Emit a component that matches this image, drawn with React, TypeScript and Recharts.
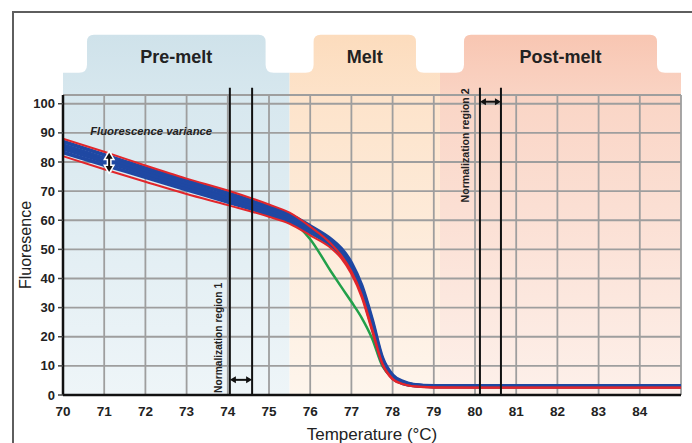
import React from 'react';
import {
  ComposedChart,
  Line,
  XAxis,
  YAxis,
  CartesianGrid,
  ReferenceArea,
  ReferenceLine,
  ReferenceDot,
} from 'recharts';

// melt curve samples
const temps = [70, 71, 72, 73, 74, 75, 75.5, 76, 76.5, 76.75, 77, 77.25, 77.5, 77.75, 78, 78.25, 78.5, 79, 80, 85];
const redTop = [88, 83.5, 78.8, 74.3, 70.2, 65.4, 62.6, 57.8, 52, 48, 42.5, 34.5, 23, 11, 5.6, 3.8, 3, 2.7, 2.6, 2.6];
const blue1 = [87, 82.5, 77.9, 73.5, 69.3, 64.6, 62, 58, 53.5, 50.3, 45.3, 37.5, 26, 12.8, 6.8, 4.6, 3.6, 3.1, 3, 3];
const blue2 = [85.8, 81.3, 76.9, 72.4, 68.2, 63.7, 61.1, 57.2, 52.8, 49.6, 44.6, 36.8, 25.2, 12.2, 6.5, 4.4, 3.5, 3, 3, 3];
const blue3 = [84.6, 80.2, 75.9, 71.5, 67.3, 62.8, 60.3, 56.5, 52.1, 48.9, 43.8, 36, 24.4, 11.7, 6.2, 4.2, 3.4, 3, 3, 3];
const blue4 = [83.3, 79, 74.8, 70.5, 66.3, 62, 59.5, 55.8, 51.4, 48.2, 43, 35.2, 23.6, 11.2, 5.9, 4, 3.3, 3, 3, 3];
const redBottom = [82, 77.5, 73.2, 69, 65.2, 61.2, 58.8, 54.8, 50.5, 47, 41.5, 33.5, 22, 10.5, 5.3, 3.7, 3, 2.5, 2.5, 2.5];
const green = [85, 80.5, 76.2, 72, 67.8, 63, 60.3, 53.5, 42.5, 37.2, 32, 26.5, 19.5, 10, 6, 4, 3.2, 2.8, 2.8, 2.8];

const xTicks = [70, 71, 72, 73, 74, 75, 76, 77, 78, 79, 80, 81, 82, 83, 84];
const yTicks = [0, 10, 20, 30, 40, 50, 60, 70, 80, 90, 100];

const phaseNames = ['Pre-melt', 'Melt', 'Post-melt'];
const phaseStart = [70, 75.5, 79.15];
const phaseEnd = [75.5, 79.15, 85];
const phaseTop = 110.6;

// normalization region boundaries
const normLines = [74.05, 74.59, 80.12, 80.63];

const data = temps.map((t, i) => ({
  t,
  redTop: redTop[i],
  blue1: blue1[i],
  blue2: blue2[i],
  blue3: blue3[i],
  blue4: blue4[i],
  redBottom: redBottom[i],
  green: green[i],
}));

const phaseColors = [
  ['#cfe2ea', '#d8e8ef', '#eef5f8'],
  ['#fcdcbd', '#fde4cc', '#fef5ec'],
  ['#f8c6b2', '#fad6c7', '#fdf0ea'],
];

const FONT = "'Liberation Sans', Arial, sans-serif";

const PhaseBand = (props: any) => {
  const { x, y, width, height, idx } = props;
  const tabH = 38;
  const inset = 24;
  const rt = 7;
  const rf = 8;
  const yt = y - tabH;
  const l = x + inset;
  const r = x + width - inset;
  const d = `M${x},${y} L${l - rf},${y} Q${l},${y} ${l},${y - rf} L${l},${yt + rt} Q${l},${yt} ${l + rt},${yt} L${r - rt},${yt} Q${r},${yt} ${r},${yt + rt} L${r},${y - rf} Q${r},${y} ${r + rf},${y} L${x + width},${y} L${x + width},${y + height} L${x},${y + height} Z`;
  const c = phaseColors[idx];
  const gid = `phase-grad-${idx}`;
  return (
    <g>
      <defs>
        <linearGradient id={gid} x1="0" y1="0" x2="0" y2="1">
          <stop offset="0" stopColor={c[0]} />
          <stop offset="0.2" stopColor={c[1]} />
          <stop offset="1" stopColor={c[2]} />
        </linearGradient>
      </defs>
      <path d={d} fill={`url(#${gid})`} />
      <text
        x={x + width / 2}
        y={y - 16}
        textAnchor="middle"
        dominantBaseline="central"
        fontFamily={FONT}
        fontWeight="bold"
        fontSize={18}
        fill="#222"
      >
        {phaseNames[idx]}
      </text>
    </g>
  );
};

const DoubleArrow = (p: any) => {
  const { x1, y1, x2, y2, halo } = p;
  const dx = x2 - x1;
  const dy = y2 - y1;
  const len = Math.hypot(dx, dy) || 1;
  const ux = dx / len;
  const uy = dy / len;
  const nx = -uy;
  const ny = ux;
  const h = 6;
  const w = 3.5;
  const head = (tx: number, ty: number, s: number) =>
    `M${tx},${ty} L${tx - s * ux * h + nx * w},${ty - s * uy * h + ny * w} L${tx - s * ux * h - nx * w},${ty - s * uy * h - ny * w} Z`;
  return (
    <g>
      {halo && (
        <g stroke="#fff" strokeWidth={3} fill="#fff">
          <line x1={x1} y1={y1} x2={x2} y2={y2} strokeWidth={5} />
          <path d={head(x2, y2, 1)} />
          <path d={head(x1, y1, -1)} />
        </g>
      )}
      <line x1={x1 + ux * 3} y1={y1 + uy * 3} x2={x2 - ux * 3} y2={y2 - uy * 3} stroke="#111" strokeWidth={2} />
      <path d={head(x2, y2, 1)} fill="#111" />
      <path d={head(x1, y1, -1)} fill="#111" />
    </g>
  );
};

const TextMark = (p: any) => {
  const { cx, cy, text, rotate, size, italic, length } = p;
  return (
    <text
      x={cx}
      y={cy}
      textAnchor="middle"
      dominantBaseline="central"
      transform={rotate ? `rotate(-90 ${cx} ${cy})` : undefined}
      fontFamily={FONT}
      fontWeight="bold"
      fontStyle={italic ? 'italic' : 'normal'}
      fontSize={size}
      textLength={length}
      lengthAdjust="spacingAndGlyphs"
      fill="#222"
    >
      {text}
    </text>
  );
};

const blueColor = '#1f48a3';
const redColor = '#e2262b';
const greenColor = '#22a04a';

export default function App() {
  return (
    <div style={{ position: 'absolute', left: 0, top: 0, width: 692, height: 443, background: '#fff' }}>
      <div
        style={{
          position: 'absolute',
          left: 12,
          top: 11,
          width: 690,
          height: 440,
          borderTop: '2px solid #5e5e5e',
          borderLeft: '2px solid #5e5e5e',
        }}
      />
      <div style={{ position: 'absolute', left: 0, top: 0 }}>
        <ComposedChart width={692} height={443} data={data} margin={{ top: 95, right: 11, left: 13, bottom: 0 }}>
          {phaseNames.map((name, i) => (
            <ReferenceArea
              key={name}
              x1={phaseStart[i]}
              x2={phaseEnd[i]}
              y1={0}
              y2={phaseTop}
              ifOverflow="visible"
              zIndex={-200}
              shape={(p: any) => <PhaseBand {...p} idx={i} />}
            />
          ))}
          <CartesianGrid stroke="#9e9e9e" strokeWidth={1.8} />
          <XAxis
            dataKey="t"
            type="number"
            domain={[70, 85]}
            ticks={xTicks}
            allowDataOverflow
            axisLine={{ stroke: '#111', strokeWidth: 2.5 }}
            tickLine={false}
            tickMargin={5}
            height={48}
            tick={{ fill: '#222', fontSize: 13.5, fontWeight: 'bold', fontFamily: FONT }}
            label={{ value: 'Temperature (°C)', position: 'insideBottom', offset: 3, fill: '#222', fontSize: 17, fontFamily: FONT }}
          />
          <YAxis
            type="number"
            domain={[0, 103]}
            ticks={yTicks}
            allowDataOverflow
            width={50}
            axisLine={{ stroke: '#111', strokeWidth: 2.5 }}
            tickLine={{ stroke: '#444', strokeWidth: 1.5 }}
            tickSize={5}
            tickMargin={3}
            tick={{ fill: '#222', fontSize: 13, fontWeight: 'bold', fontFamily: FONT }}
            label={{
              value: 'Fluoresence',
              angle: -90,
              position: 'insideLeft',
              offset: 12,
              fill: '#222',
              fontSize: 16,
              fontFamily: FONT,
              style: { textAnchor: 'middle' },
            }}
          />
          <Line type="monotone" dataKey="green" stroke={greenColor} strokeWidth={2.5} dot={false} isAnimationActive={false} />
          <Line type="monotone" dataKey="blue1" stroke={blueColor} strokeWidth={3.8} dot={false} isAnimationActive={false} />
          <Line type="monotone" dataKey="blue2" stroke={blueColor} strokeWidth={3.8} dot={false} isAnimationActive={false} />
          <Line type="monotone" dataKey="blue3" stroke={blueColor} strokeWidth={3.8} dot={false} isAnimationActive={false} />
          <Line type="monotone" dataKey="blue4" stroke={blueColor} strokeWidth={3.8} dot={false} isAnimationActive={false} />
          <Line type="monotone" dataKey="redTop" stroke={redColor} strokeWidth={2} dot={false} isAnimationActive={false} />
          <Line type="monotone" dataKey="redBottom" stroke={redColor} strokeWidth={2} dot={false} isAnimationActive={false} />
          {normLines.map((v) => (
            <ReferenceLine
              key={v}
              segment={[{ x: v, y: 0 }, { x: v, y: 105.5 }]}
              stroke="#111"
              strokeWidth={2}
              ifOverflow="visible"
            />
          ))}
          <ReferenceLine
            segment={[{ x: normLines[0], y: 5.2 }, { x: normLines[1], y: 5.2 }]}
            ifOverflow="visible"
            shape={(p: any) => <DoubleArrow {...p} />}
          />
          <ReferenceLine
            segment={[{ x: normLines[2], y: 100.7 }, { x: normLines[3], y: 100.7 }]}
            ifOverflow="visible"
            shape={(p: any) => <DoubleArrow {...p} />}
          />
          <ReferenceLine
            segment={[{ x: 71.12, y: 83.2 }, { x: 71.12, y: 76.6 }]}
            ifOverflow="visible"
            shape={(p: any) => <DoubleArrow {...p} halo />}
          />
          <ReferenceDot
            x={72.14}
            y={90.7}
            ifOverflow="visible"
            shape={(p: any) => <TextMark {...p} text="Fluorescence variance" size={11.5} length={122} italic />}
          />
          <ReferenceDot
            x={73.76}
            y={19.6}
            ifOverflow="visible"
            shape={(p: any) => <TextMark {...p} text="Normalization region 1" size={10.5} length={110} rotate />}
          />
          <ReferenceDot
            x={79.76}
            y={85.7}
            ifOverflow="visible"
            shape={(p: any) => <TextMark {...p} text="Normalization region 2" size={10.5} length={114} rotate />}
          />
        </ComposedChart>
      </div>
    </div>
  );
}
